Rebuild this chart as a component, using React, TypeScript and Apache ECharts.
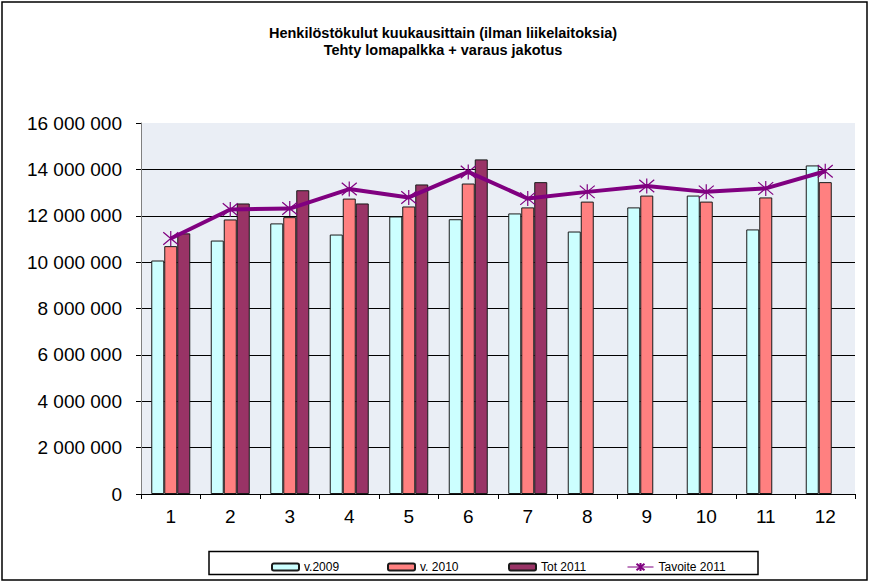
import React, { useEffect, useRef } from "react";
import * as echarts from "echarts";

const months = ["1", "2", "3", "4", "5", "6", "7", "8", "9", "10", "11", "12"];
const v2009 = [10070000, 10930000, 11670000, 11190000, 11970000, 11850000, 12100000, 11320000, 12360000, 12870000, 11410000, 14170000];
const v2010 = [10690000, 11840000, 11940000, 12740000, 12400000, 13390000, 12360000, 12610000, 12870000, 12610000, 12790000, 13450000];
const tot2011 = [11240000, 12530000, 13100000, 12530000, 13350000, 14430000, 13450000, null, null, null, null, null];
const tavoite2011 = [11020000, 12270000, 12310000, 13150000, 12790000, 13890000, 12740000, 13030000, 13280000, 13030000, 13180000, 13920000];
const seriesNames = ["v.2009", "v. 2010", "Tot 2011", "Tavoite 2011"];
const titleLines = ["Henkilöstökulut kuukausittain (ilman liikelaitoksia)", "Tehty lomapalkka + varaus jakotus"];

const FONT = "'Liberation Sans', Arial, sans-serif";
const STAR = "path://M0,0L10,10M10,0L0,10M5,-1L5,11";

export default function App() {
  const ref = useRef<HTMLDivElement>(null);
  useEffect(() => {
    if (!ref.current) return;
    const chart = echarts.init(ref.current, null, { renderer: "svg" });
    const fmt = (v: number) => String(v).replace(/\B(?=(\d{3})+(?!\d))/g, " ");
    const legendPos = [266, 382, 503, 622];
    const barStyle = (c: string) => ({ color: c, borderColor: "#1a1a1a", borderWidth: 1 });
    chart.setOption({
      animation: false,
      backgroundColor: "#fff",
      textStyle: { fontFamily: FONT },
      title: {
        text: titleLines.join("\n"),
        left: 438,
        textAlign: "center",
        top: 19,
        textStyle: { fontFamily: FONT, fontSize: 14.5, fontWeight: "bold", color: "#000", lineHeight: 17 },
      },
      graphic: [
        { type: "rect", shape: { x: 2, y: 2, width: 865, height: 578 }, style: { fill: "none", stroke: "#000", lineWidth: 1.5 }, silent: true, z: -1 },
        { type: "rect", shape: { x: 209, y: 551.5, width: 549, height: 23 }, style: { fill: "none", stroke: "#000", lineWidth: 1.5 }, silent: true },
      ],
      legend: seriesNames.map((n, i) => ({
        data: [n],
        left: legendPos[i],
        top: 556,
        itemWidth: i === 3 ? 26 : 27,
        itemHeight: i === 3 ? 10 : 7,
        itemGap: 0,
        textStyle: { fontFamily: FONT, fontSize: 12, color: "#000" },
        lineStyle: i === 3 ? { width: 1 } : undefined,
      })),
      grid: { left: 141, right: 17, top: 123, bottom: 89, show: true, backgroundColor: "#EAEEF5", borderWidth: 0 },
      xAxis: {
        type: "category",
        data: months,
        axisLine: { lineStyle: { color: "#000", width: 1 } },
        axisTick: { show: true, length: 5, lineStyle: { color: "#000" } },
        axisLabel: { fontFamily: FONT, fontSize: 19, color: "#000", margin: 13 },
      },
      yAxis: {
        type: "value",
        min: 0,
        max: 16000000,
        interval: 2000000,
        axisLine: { show: true, lineStyle: { color: "#808080", width: 1 } },
        axisTick: { show: true, length: 5, lineStyle: { color: "#000" } },
        axisLabel: { fontFamily: FONT, fontSize: 19, color: "#000", margin: 19, formatter: fmt },
        splitLine: { show: true, showMinLine: false, showMaxLine: false, lineStyle: { color: "#000", width: 1 } },
      },
      series: [
        { name: seriesNames[0], type: "bar", data: v2009, barWidth: 13, barGap: "0%", itemStyle: barStyle("#CCFFFF") },
        { name: seriesNames[1], type: "bar", data: v2010, barWidth: 13, barGap: "0%", itemStyle: barStyle("#FF8080") },
        { name: seriesNames[2], type: "bar", data: tot2011, barWidth: 13, barGap: "0%", itemStyle: barStyle("#993366") },
        {
          name: seriesNames[3],
          type: "line",
          data: tavoite2011,
          symbol: STAR,
          symbolSize: 15,
          lineStyle: { color: "#800080", width: 4 },
          itemStyle: { color: "#800080", borderColor: "#800080", borderWidth: 1.2 },
          z: 5,
        },
      ],
    });
    return () => chart.dispose();
  }, []);
  return <div ref={ref} style={{ position: "absolute", left: 0, top: 0, width: 872, height: 583 }} />;
}
